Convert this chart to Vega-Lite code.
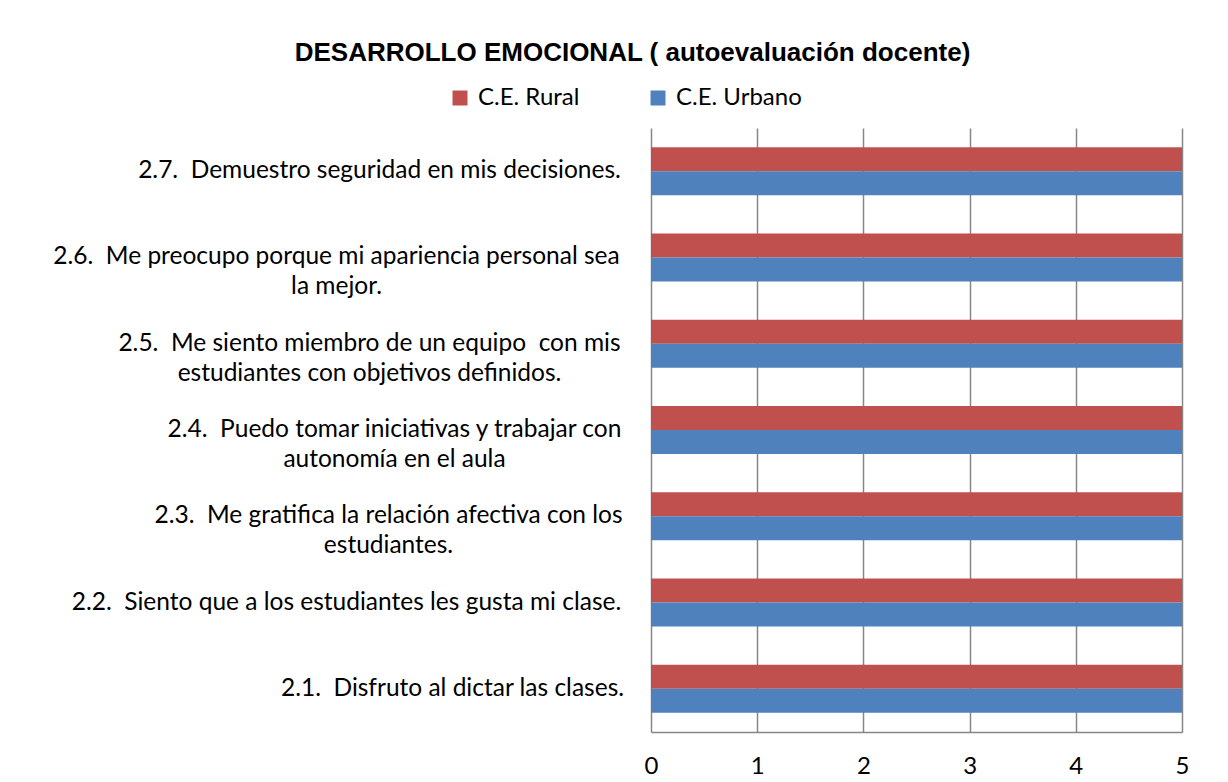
{
  "$schema": "https://vega.github.io/schema/vega-lite/v6.json",
  "autosize": "none",
  "padding": {"left": 651, "top": 128, "right": 46, "bottom": 50},
  "width": 531,
  "height": 604,
  "background": "white",
  "title": {
    "text": "DESARROLLO EMOCIONAL ( autoevaluación docente)",
    "font": "Liberation Sans",
    "fontSize": 26,
    "fontWeight": "bold",
    "color": "black",
    "anchor": "middle",
    "frame": "group",
    "dx": -284,
    "offset": 20
  },
  "data": {
    "values": [
      {"item": "2.7.\u00a0 Demuestro seguridad en mis decisiones.", "grupo": "C.E. Rural", "valor": 5},
      {"item": "2.7.\u00a0 Demuestro seguridad en mis decisiones.", "grupo": "C.E. Urbano", "valor": 5},
      {"item": "2.6.\u00a0 Me preocupo porque mi apariencia personal sea\nla mejor.", "grupo": "C.E. Rural", "valor": 5},
      {"item": "2.6.\u00a0 Me preocupo porque mi apariencia personal sea\nla mejor.", "grupo": "C.E. Urbano", "valor": 5},
      {"item": "2.5.\u00a0 Me siento miembro de un equipo\u00a0 con mis\nestudiantes con objetivos definidos.", "grupo": "C.E. Rural", "valor": 5},
      {"item": "2.5.\u00a0 Me siento miembro de un equipo\u00a0 con mis\nestudiantes con objetivos definidos.", "grupo": "C.E. Urbano", "valor": 5},
      {"item": "2.4.\u00a0 Puedo tomar iniciativas y trabajar con\nautonomía en el aula", "grupo": "C.E. Rural", "valor": 5},
      {"item": "2.4.\u00a0 Puedo tomar iniciativas y trabajar con\nautonomía en el aula", "grupo": "C.E. Urbano", "valor": 5},
      {"item": "2.3.\u00a0 Me gratifica la relación afectiva con los\nestudiantes.", "grupo": "C.E. Rural", "valor": 5},
      {"item": "2.3.\u00a0 Me gratifica la relación afectiva con los\nestudiantes.", "grupo": "C.E. Urbano", "valor": 5},
      {"item": "2.2.\u00a0 Siento que a los estudiantes les gusta mi clase.", "grupo": "C.E. Rural", "valor": 5},
      {"item": "2.2.\u00a0 Siento que a los estudiantes les gusta mi clase.", "grupo": "C.E. Urbano", "valor": 5},
      {"item": "2.1.\u00a0 Disfruto al dictar las clases.", "grupo": "C.E. Rural", "valor": 5},
      {"item": "2.1.\u00a0 Disfruto al dictar las clases.", "grupo": "C.E. Urbano", "valor": 5}
    ]
  },
  "mark": {"type": "bar"},
  "encoding": {
    "y": {
      "field": "item",
      "type": "nominal",
      "sort": "descending",
      "title": null,
      "scale": {"paddingInner": 0.444, "paddingOuter": 0.222},
      "axis": {
        "domain": false,
        "ticks": false,
        "tickSize": 0,
        "grid": false,
        "labelExpr": "split(datum.label, '\\n')",
        "labelFont": "Lato",
        "labelFontSize": 24.5,
        "labelColor": "black",
        "labelLimit": 800,
        "labelLineHeight": 30,
        "labelAlign": "center",
        "labelBaseline": "middle",
        "labelPadding": {
          "condition": [
            {"test": "substring(datum.value, 0, 3) == '2.7'", "value": 272},
            {"test": "substring(datum.value, 0, 3) == '2.6'", "value": 315},
            {"test": "substring(datum.value, 0, 3) == '2.5'", "value": 282},
            {"test": "substring(datum.value, 0, 3) == '2.4'", "value": 257},
            {"test": "substring(datum.value, 0, 3) == '2.3'", "value": 263},
            {"test": "substring(datum.value, 0, 3) == '2.2'", "value": 305}
          ],
          "value": 199
        }
      }
    },
    "yOffset": {"field": "grupo", "type": "nominal", "sort": ["C.E. Rural", "C.E. Urbano"]},
    "x": {
      "field": "valor",
      "type": "quantitative",
      "title": null,
      "scale": {"domain": [0, 5], "nice": false},
      "axis": {
        "values": [0, 1, 2, 3, 4, 5],
        "format": "d",
        "grid": true,
        "gridColor": "#878787",
        "gridWidth": 1.5,
        "domain": true,
        "domainColor": "#878787",
        "domainWidth": 1.5,
        "ticks": false,
        "tickSize": 0,
        "labelFont": "Lato",
        "labelFontSize": 24,
        "labelColor": "black",
        "labelPadding": 22,
        "labelFlush": false
      }
    },
    "color": {
      "field": "grupo",
      "type": "nominal",
      "scale": {"domain": ["C.E. Rural", "C.E. Urbano"], "range": ["#C0504D", "#4F81BD"]},
      "legend": {
        "title": null,
        "orient": "none",
        "direction": "horizontal",
        "legendX": -203,
        "legendY": -42,
        "padding": 0,
        "symbolType": "square",
        "symbolSize": 225,
        "symbolStrokeWidth": 0,
        "symbolOpacity": 1,
        "labelFont": "Lato",
        "labelFontSize": 24,
        "labelColor": "black",
        "labelOffset": 6,
        "columnPadding": 66
      }
    }
  },
  "config": {
    "view": {"stroke": null}
  }
}
